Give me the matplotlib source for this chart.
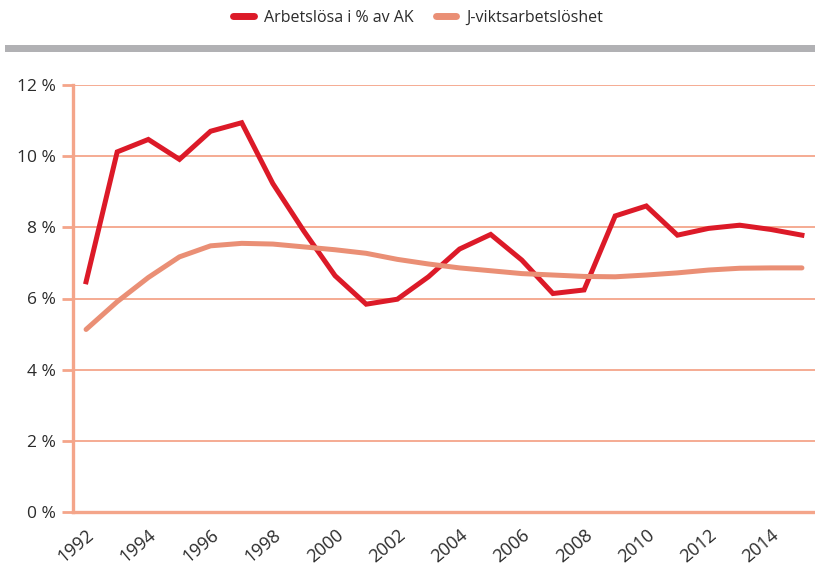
import numpy as np
import matplotlib.pyplot as plt
from matplotlib.lines import Line2D
from matplotlib.patches import Rectangle
import matplotlib.transforms as mtransforms

plt.rcParams['font.family'] = ['Open Sans', 'DejaVu Sans']

years = np.arange(1992, 2016)
arbetslosa = [6.47, 10.12, 10.47, 9.91, 10.70, 10.94, 9.23, 7.89, 6.64, 5.84,
              5.98, 6.61, 7.39, 7.80, 7.08, 6.14, 6.24, 8.32, 8.60, 7.78,
              7.97, 8.06, 7.94, 7.78]
jvikt = [5.13, 5.91, 6.59, 7.17, 7.48, 7.55, 7.53, 7.45, 7.37, 7.27,
         7.10, 6.97, 6.86, 6.78, 6.70, 6.66, 6.62, 6.61, 6.66, 6.72,
         6.80, 6.85, 6.86, 6.86]
xticks = np.arange(1992, 2015, 2)
yticks = [0, 2, 4, 6, 8, 10, 12]

red = '#dc1a28'
orange = '#ea8f75'
grid = '#f4a58a'
textc = '#2b2b2b'

fig = plt.figure(figsize=(8.15, 5.67), dpi=100)
ax = fig.add_axes([73 / 815, 55 / 567, 742 / 815, 427 / 567])

ax.plot(years, arbetslosa, color=red, lw=3.6, solid_joinstyle='miter',
        label='Arbetslösa i % av AK', zorder=3)
ax.plot(years, jvikt, color=orange, lw=3.6, solid_capstyle='round',
        label='J-viktsarbetslöshet', zorder=3)

ax.set_xlim(1991.58, 2015.42)
ax.set_ylim(0, 12)
ax.set_yticks(yticks)
ax.set_yticklabels([f'{v} %' for v in yticks])
ax.set_xticks(xticks)
ax.set_xticklabels([str(y) for y in xticks], rotation=40, ha='right', va='top',
                   rotation_mode='anchor')
offset = mtransforms.ScaledTranslation(9 / 72, 0, fig.dpi_scale_trans)
for lab in ax.get_xticklabels():
    lab.set_transform(lab.get_transform() + offset)

ax.yaxis.grid(True, color=grid, lw=1.3)
ax.set_axisbelow(True)
for s in ['top', 'right']:
    ax.spines[s].set_visible(False)
for s in ['left', 'bottom']:
    ax.spines[s].set_color(grid)
    ax.spines[s].set_linewidth(2.4)
ax.tick_params(axis='y', length=8, width=2, color=grid, labelsize=12.5,
               labelcolor=textc, pad=4)
ax.tick_params(axis='x', length=0, labelsize=13, labelcolor=textc, pad=10)

# grey divider under the legend
fig.add_artist(Rectangle((5 / 815, 515 / 567), 810 / 815, 7 / 567,
                         transform=fig.transFigure, color='#b1b1b4', lw=0))

handles = [Line2D([], [], color=red, lw=5, solid_capstyle='round'),
           Line2D([], [], color=orange, lw=5, solid_capstyle='round')]
fig.legend(handles, ['Arbetslösa i % av AK', 'J-viktsarbetslöshet'],
           loc='center', bbox_to_anchor=(418 / 815, 1 - 18 / 567), ncol=2,
           frameon=False, fontsize=11.5, handlelength=1.3, handletextpad=0.6,
           columnspacing=1.4, labelcolor=textc)

fig.savefig('out.png', dpi=100)
